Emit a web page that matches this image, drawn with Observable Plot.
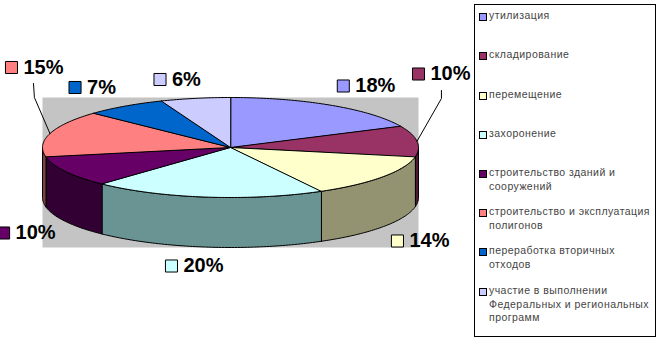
<!DOCTYPE html>
<html><head><meta charset="utf-8">
<script src="https://cdn.jsdelivr.net/npm/d3@7"></script>
<script src="https://cdn.jsdelivr.net/npm/@observablehq/plot@0.6"></script>
<style>
body{margin:0;background:#fff;}
#wrap{position:relative;width:659px;height:344px;overflow:hidden;}
#wrap svg{position:absolute;left:0;top:0;}
#legend{position:absolute;left:474px;top:4px;width:182px;height:333px;border:1px solid #000;box-sizing:border-box;background:#fff;
  font-family:Arial,"Liberation Sans",sans-serif;font-size:10.5px;color:#444;}
.item{position:absolute;left:0;width:180px;}
.sw{position:absolute;left:4px;width:6px;height:6px;border:1px solid #000;}
.tx{position:absolute;left:14px;line-height:13.3px;white-space:nowrap;letter-spacing:0.45px;}
</style>
</head><body><div id="wrap"></div>
<script>
// ---- data ----
const categories = ["утилизация","складирование","перемещение","захоронение",
  "строительство зданий и сооружений","строительство и эксплуатация полигонов",
  "переработка вторичных отходов","участие в выполнении Федеральных и региональных программ"];
const legendLines = [["утилизация"],["складирование"],["перемещение"],["захоронение"],
  ["строительство зданий и","сооружений"],["строительство и эксплуатация","полигонов"],
  ["переработка вторичных","отходов"],["участие в выполнении","Федеральных и региональных","программ"]];
const shares = [18, 10, 14, 20, 10, 15, 7, 6];
const labels = shares.map(v => v + "%");
const topColors  = ["#9999FF","#993366","#FFFFCC","#CCFFFF","#660066","#FF8080","#0066CC","#CCCCFF"];
const sideColors = ["#5c5c99","#4d1a33","#939372","#6a9494","#330033","#804040","#003366","#666680"];

// ---- layout (unit ellipse space: rx = 1, ry = 1) ----
const DEPTH = 1;
const labelAt = [[0.60,-1.23],[1.00,-1.47],[0.888,1.87],[-0.314,2.37],[-1.207,1.71],[-1.165,-1.60],[-0.827,-1.20],[-0.375,-1.36]];
const leaderBends = {1: [[1.122,-0.98],[1.122,-1.14]], 5: [[-1.043,-1.0],[-1.048,-1.28]]};
const legendTop = [16, 55, 95, 134, 173, 212, 251, 291];

// ---- geometry from data ----
const total = d3.sum(shares);
let acc = 0;
const slices = shares.map((v, i) => {
  const a0 = acc / total * 2 * Math.PI; acc += v;
  const a1 = acc / total * 2 * Math.PI;
  return {i, a0, a1, mid: (a0 + a1) / 2};
});
const pt = a => [Math.sin(a), -Math.cos(a)];
function arc(a0, a1) {
  const n = Math.max(2, Math.ceil((a1 - a0) / (Math.PI / 180)));
  return d3.range(n + 1).map(k => pt(a0 + (a1 - a0) * k / n));
}
const topRows = [];
slices.forEach(s => {
  [[0, 0], ...arc(s.a0, s.a1)].forEach(([x, y]) => topRows.push({key: "t" + s.i, x, y, fill: topColors[s.i]}));
});
const sideRows = [];
slices.forEach(s => {
  const b0 = Math.max(s.a0, Math.PI / 2), b1 = Math.min(s.a1, 3 * Math.PI / 2);
  if (b1 <= b0) return;
  const up = arc(b0, b1);
  const down = up.map(([x, y]) => [x, y + DEPTH]).reverse();
  [...up, ...down].forEach(([x, y]) => sideRows.push({key: "s" + s.i, x, y, fill: sideColors[s.i]}));
});
const leaderRows = [];
Object.entries(leaderBends).forEach(([i, bends]) => {
  const [x0, y0] = pt(slices[+i].mid);
  [[x0, y0], ...bends].forEach(([x, y]) => leaderRows.push({key: "l" + i, x, y}));
});
const labelRows = slices.map(s => ({x: labelAt[s.i][0], y: labelAt[s.i][1], text: labels[s.i], fill: topColors[s.i]}));

const chart = Plot.plot({
  width: 659, height: 344,
  marginLeft: 42, marginRight: 241, marginTop: 97, marginBottom: 97,
  x: {domain: [-1, 1], axis: null},
  y: {domain: [-1, 2], range: [97, 247], axis: null},
  color: {type: "identity"},
  style: {background: "transparent", overflow: "visible"},
  marks: [
    Plot.frame({fill: "#c4c4c4", stroke: null}),
    Plot.line(sideRows, {x: "x", y: "y", z: "key", fill: "fill", stroke: "black", strokeWidth: 1, curve: "linear-closed"}),
    Plot.line(topRows, {x: "x", y: "y", z: "key", fill: "fill", stroke: "black", strokeWidth: 1, curve: "linear-closed"}),
    Plot.line(leaderRows, {x: "x", y: "y", z: "key", stroke: "black", strokeWidth: 1}),
    Plot.dot(labelRows, {x: "x", y: "y", symbol: "square", r: 6.8, fill: "fill", stroke: "black", strokeWidth: 1}),
    Plot.text(labelRows, {x: "x", y: "y", text: "text", textAnchor: "start", dx: 12, fontSize: 20, fontWeight: "bold",
      fontFamily: "Arial, 'Liberation Sans', sans-serif", fill: "black"})
  ]
});
const wrap = document.getElementById("wrap");
wrap.appendChild(chart);

// legend
const lg = document.createElement("div");
lg.id = "legend";
categories.forEach((c, i) => {
  const it = document.createElement("div");
  it.className = "item";
  const top = legendTop[i] - 4 - 1;
  const sw = document.createElement("div");
  sw.className = "sw"; sw.style.top = (top - 3) + "px"; sw.style.background = topColors[i];
  const tx = document.createElement("div");
  tx.className = "tx"; tx.style.top = (top - 6.6) + "px";
  tx.innerHTML = legendLines[i].join("<br>");
  it.appendChild(sw); it.appendChild(tx);
  lg.appendChild(it);
});
wrap.appendChild(lg);
</script>
</body></html>
